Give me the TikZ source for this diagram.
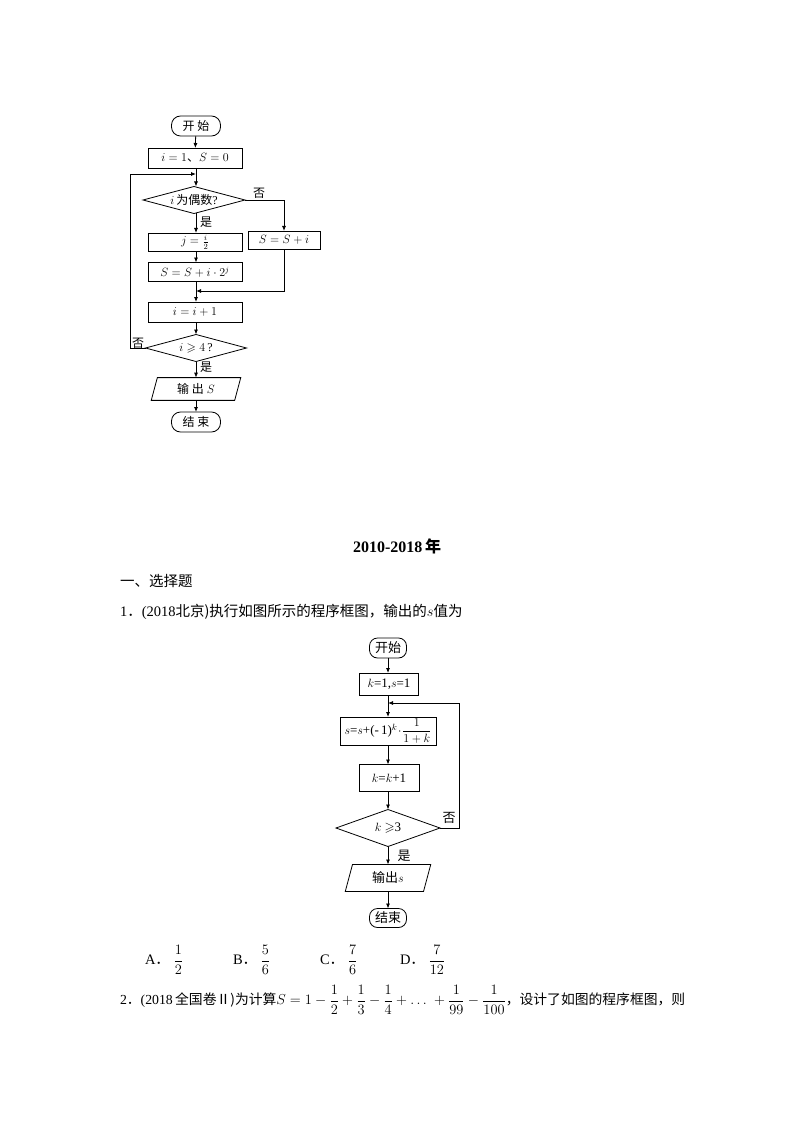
\documentclass[tikz,border=0pt]{standalone}
\usepackage{amsmath,amssymb}
\usepackage{fontspec}
\setmainfont{Liberation Serif}
\newfontfamily\cjk{Noto Sans CJK SC}
\usetikzlibrary{shapes.geometric,arrows.meta}
\begin{document}
\begin{tikzpicture}[x=1pt,y=-1pt,
  every node/.style={inner sep=0pt,outer sep=0pt},
  arr/.style={line width=0.8pt,-{Latex[length=5pt,width=4pt]}},
  proc/.style={draw,line width=0.8pt,rectangle},
  dec/.style={draw,line width=0.8pt,diamond,aspect=3.6},
  io/.style={draw,line width=0.8pt,trapezium,trapezium left angle=75,trapezium right angle=105},
  sm/.style={font=\fontsize{12}{14}\selectfont},
  md/.style={font=\fontsize{13}{15}\selectfont},
  tx/.style={font=\fontsize{14.5}{17}\selectfont,anchor=west}]
\useasboundingbox (0,0) rectangle (794,1123);
% ---- top chart
\begin{scope}[sm]
\node[proc,rounded corners=9pt,minimum width=49pt,minimum height=20pt] (a0) at (196,126) {\cjk 开\ 始};
\node[proc,minimum width=94pt,minimum height=20pt] (a1) at (195,158) {$i=1${\cjk 、}$S=0$};
\coordinate (am) at (196,174);
\node[dec,minimum width=102pt,minimum height=27pt] (a2) at (194,200) {$i$\,{\cjk 为偶数}?};
\node[proc,minimum width=94pt,minimum height=18pt] (a3) at (195,242) {$j=\frac{i}{2}$};
\node[proc,minimum width=72pt,minimum height=18pt] (b3) at (284,240) {$S=S+i$};
\node[proc,minimum width=94pt,minimum height=19pt] (a4) at (195,272) {$S=S+i\cdot 2^{j}$};
\coordinate (amm) at (196,291);
\node[proc,minimum width=94pt,minimum height=20pt] (a5) at (195,312) {$i=i+1$};
\node[dec,minimum width=101pt,minimum height=27pt] (a6) at (196,348) {$i\geqslant 4$\,?};
\node[io,minimum width=90pt,minimum height=22pt] (a7) at (196,389) {{\cjk 输\ 出}\ $S$};
\node[proc,rounded corners=9pt,minimum width=49pt,minimum height=20pt] (a8) at (196,422) {\cjk 结\ 束};
\draw[arr] (a0) -- (a1);
\draw[arr] (a1.south -| am) -- (a2.north -| am);
\draw[arr] (a2.south -| am) -- (a3.north -| am);
\draw[arr] (a3.south -| am) -- (a4.north -| am);
\draw[arr] (a4.south -| am) -- (a5.north -| am);
\draw[arr] (a5.south -| am) -- (a6.north -| am);
\draw[arr] (a6.south -| am) -- (a7.north -| am);
\draw[arr] (a7.south -| am) -- (a8.north -| am);
\draw[arr] (a2.east) -| (b3.north);
\draw[arr] (b3.south) |- (amm);
\draw[arr] (a6.west) -- (130,348) |- (am);
\node at (259,193) {\cjk 否};
\node at (206,222) {\cjk 是};
\node at (138,343) {\cjk 否};
\node at (206,367) {\cjk 是};
\end{scope}
% ---- texts
\node[font=\bfseries\fontsize{16}{19}\selectfont] (title) at (397,546) {2010-2018\,{\cjk\bfseries 年}};
\node[tx] (t1) at (120,581) {\cjk 一、选择题};
\node[tx] (t2) at (120,612) {1{\cjk ．}(2018{\cjk 北京)执行如图所示的程序框图，输出的}$s${\cjk 值为}};
% ---- second chart
\begin{scope}[md]
\node[proc,rounded corners=8pt,minimum width=37pt,minimum height=20pt] (c0) at (388,648) {\cjk 开始};
\node[proc,minimum width=59pt,minimum height=22pt] (c1) at (389,684) {$k$=1,$s$=1};
\coordinate (cm) at (388,703);
\node[proc,minimum width=96pt,minimum height=28pt] (c2) at (388,731) {$s$=$s$+(-\,1)$^{k}\!\cdot\!\dfrac{1}{1+k}$};
\node[proc,minimum width=60pt,minimum height=27pt] (c3) at (389,778) {$k$=$k$+1};
\node[dec,minimum width=104pt,minimum height=37pt] (c4) at (388,828) {$k\geqslant$3};
\node[io,minimum width=60pt,minimum height=27pt] (c5) at (388,878) {{\cjk 输出}$s$};
\node[proc,rounded corners=8pt,minimum width=37pt,minimum height=19pt] (c6) at (388,918) {\cjk 结束};
\draw[arr] (c0) -- (c1.north -| cm);
\draw[arr] (c1.south -| cm) -- (c2.north -| cm);
\draw[arr] (c2.south -| cm) -- (c3.north -| cm);
\draw[arr] (c3.south -| cm) -- (c4.north);
\draw[arr] (c4.south) -- (c5.north -| cm);
\draw[arr] (c5.south -| cm) -- (c6.north);
\draw[arr] (c4.east) -- (459,828) |- (cm);
\node at (449,818) {\cjk 否};
\node at (404,856) {\cjk 是};
\end{scope}
% ---- options
\begin{scope}[font=\fontsize{14.5}{17}\selectfont]
\node[anchor=west] (oa) at (145,960) {A{\cjk ．}\ $\dfrac{1}{2}$};
\node[anchor=west] (ob) at (233,960) {B{\cjk ．}\ $\dfrac{5}{6}$};
\node[anchor=west] (oc) at (320,960) {C{\cjk ．}\ $\dfrac{7}{6}$};
\node[anchor=west] (od) at (400,960) {D{\cjk ．}\ $\dfrac{7}{12}$};
\end{scope}
\node[anchor=west,font=\fontsize{13.8}{16}\selectfont] (q2) at (120,1000) {2{\cjk ．}(2018\,{\cjk 全国卷Ⅱ)为计算}$S=1-\dfrac{1}{2}+\dfrac{1}{3}-\dfrac{1}{4}+\dots\;+\dfrac{1}{99}-\dfrac{1}{100}${\cjk ，设计了如图的程序框图，则}};
\end{tikzpicture}
\end{document}
